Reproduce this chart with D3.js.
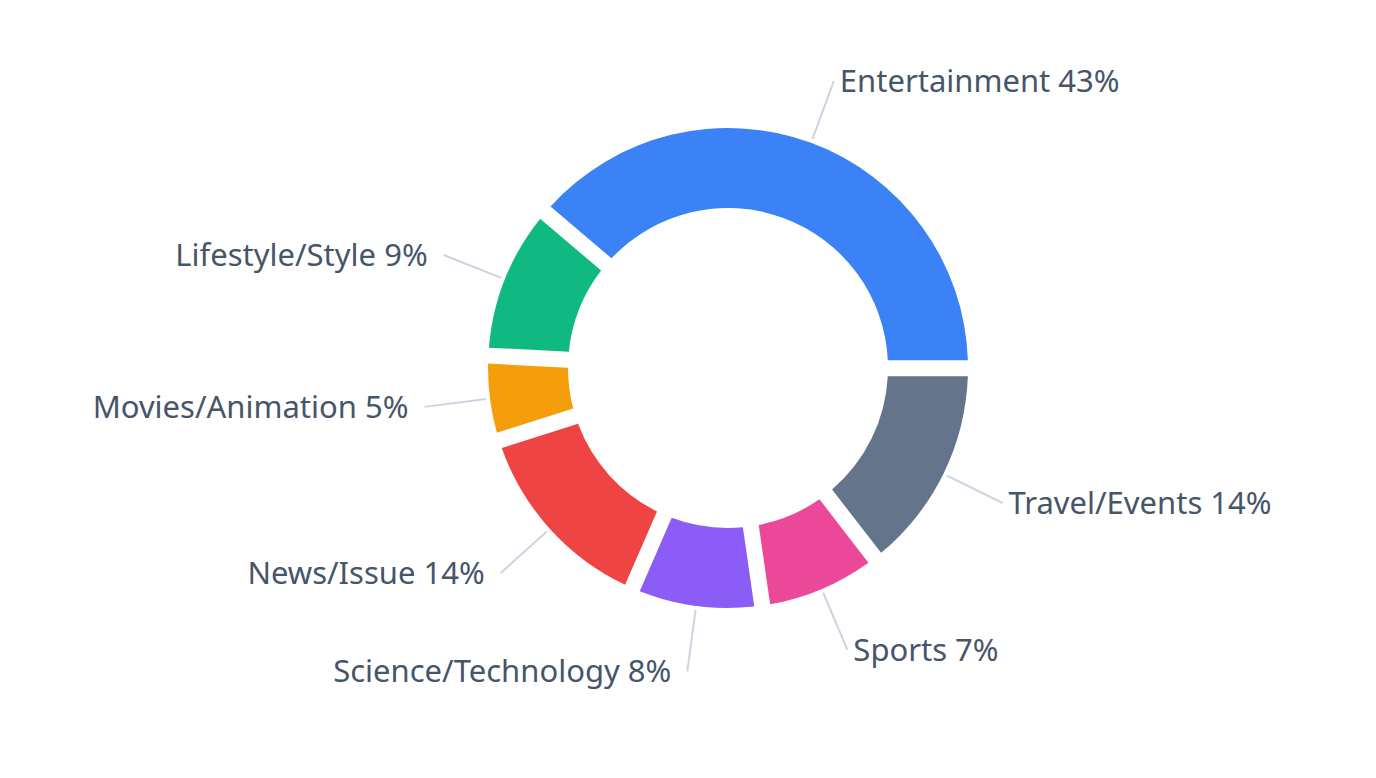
<!DOCTYPE html>
<html>
<head>
<meta charset="utf-8">
<script src="https://cdn.jsdelivr.net/npm/d3@7"></script>
<style>
  body { margin: 0; background: #fff; }
  text { font-family: "Noto Sans", sans-serif; }
</style>
</head>
<body>
<div id="body"></div>
<script>
// categories and values (angular share), labels as printed
var categories = ["Entertainment", "Travel/Events", "Sports", "Science/Technology", "News/Issue", "Movies/Animation", "Lifestyle/Style"];
var values = [38.8, 14.5, 8.2, 8.8, 13.6, 5.7, 10.4];
var percentLabels = ["43%", "14%", "7%", "8%", "14%", "5%", "9%"];
var colors = ["#3b82f6", "#64748b", "#ec4899", "#8b5cf6", "#ef4444", "#f59e0b", "#10b981"];

var width = 1376, height = 778,
    cx = 728, cy = 368,
    outer = 240, inner = 160;

var data = categories.map(function (c, i) {
    return { name: c, value: values[i], label: percentLabels[i], color: colors[i] };
});

var start = -49.6 * Math.PI / 180;

var pie = d3.pie()
    .sort(null)
    .startAngle(start)
    .endAngle(start + 2 * Math.PI)
    .value(function (d) { return d.value; });

var arc = d3.arc()
    .outerRadius(outer)
    .innerRadius(inner)
    .padRadius(outer)
    .padAngle(16 / outer);

var svg = d3.select("#body").append("svg")
    .attr("width", width)
    .attr("height", height)
    .append("g")
    .attr("transform", "translate(" + cx + "," + cy + ")");

var g = svg.selectAll(".arc")
    .data(pie(data))
    .enter().append("g")
    .attr("class", "arc");

g.append("path")
    .attr("d", arc)
    .style("fill", function (d) { return d.data.color; });

function pt(a, r) { return [r * Math.sin(a), -r * Math.cos(a)]; }

g.append("line")
    .each(function (d) {
        var a = (d.startAngle + d.endAngle) / 2;
        var p0 = pt(a, 244), p1 = pt(a, 306);
        d3.select(this)
            .attr("x1", p0[0]).attr("y1", p0[1])
            .attr("x2", p1[0]).attr("y2", p1[1]);
    })
    .style("stroke", "#cbd5e1")
    .style("stroke-width", 2);

g.append("text")
    .each(function (d) {
        var a = (d.startAngle + d.endAngle) / 2;
        var p1 = pt(a, 306);
        var right = Math.sin(a) > 0;
        d3.select(this)
            .attr("x", p1[0] + (right ? 6 : -16))
            .attr("y", p1[1])
            .attr("text-anchor", right ? "start" : "end");
    })
    .attr("dy", "0.35em")
    .style("font-size", "31px")
    .style("fill", "#475569")
    .text(function (d) { return d.data.name + " " + d.data.label; });
</script>
</body>
</html>
